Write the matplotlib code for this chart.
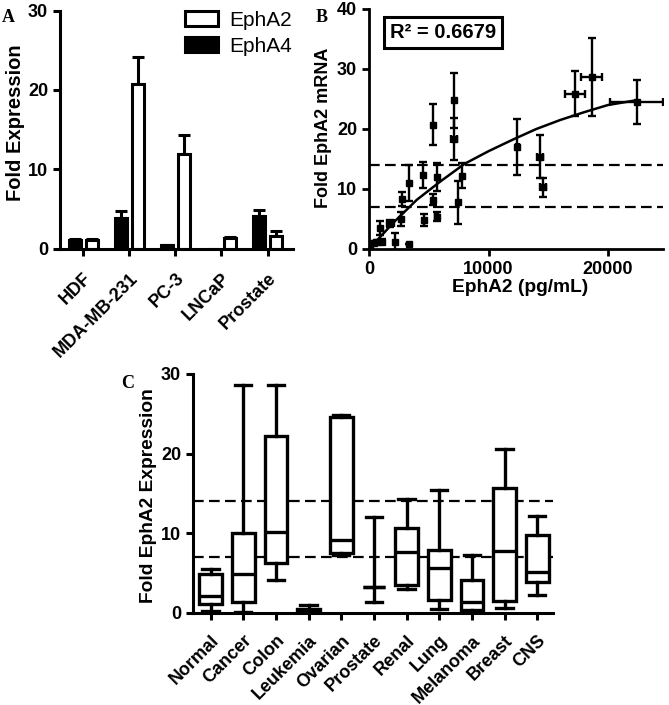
import numpy as np
import matplotlib
matplotlib.use('Agg')
import matplotlib.pyplot as plt
from matplotlib.patches import Patch

plt.rcParams['font.family'] = ['Liberation Sans', 'DejaVu Sans']
plt.rcParams['font.weight'] = 'bold'
plt.rcParams['axes.labelweight'] = 'bold'

# panel A: fold expression of EphA2 / EphA4 in cell lines
a_cats = ['HDF', 'MDA-MB-231', 'PC-3', 'LNCaP', 'Prostate']
a_epha2 = [1.1, 20.8, 12.0, 1.4, 1.6]
a_epha2_err = [0.15, 3.4, 2.4, 0.15, 0.7]
a_epha4 = [1.1, 3.9, 0.45, 0.0, 4.1]
a_epha4_err = [0.15, 0.85, 0.1, np.nan, 0.8]

# panel B: EphA2 protein vs mRNA
b_x = [22400, 18640, 17240, 12410, 14310, 14550, 7100, 7100, 7420, 7750,
       5660, 5380, 5660, 5330, 4550, 4600, 3380, 2740, 2710, 1790,
       950, 1090, 2200, 3320, 80, 390, 670]
b_y = [24.5, 28.6, 25.9, 17.0, 15.4, 10.3, 24.8, 18.3, 7.8, 12.2,
       12.0, 8.2, 5.4, 20.7, 12.3, 4.8, 11.0, 8.3, 5.0, 4.3,
       3.5, 1.2, 1.2, 0.9, 0.7, 1.0, 1.2]
b_xerr = [2200, 870, 840, 150, 250, 250, 0, 250, 0, 0,
          0, 0, 150, 0, 0, 0, 0, 0, 0, 300,
          0, 0, 0, 0, 0, 0, 0]
b_yerr = [3.6, 6.5, 3.8, 4.6, 3.6, 1.6, 4.6, 3.5, 3.6, 2.1,
          2.4, 0.9, 0.7, 3.4, 2.2, 1.0, 3.0, 1.2, 1.2, 0.6,
          1.2, 0.4, 1.4, 0.0, 0.5, 0.4, 0.3]
fit_x = [0, 2000, 4000, 6000, 8000, 10000, 12000, 14000, 16000, 18000, 20000, 22400]
fit_y = [0, 4.3, 8.2, 11.3, 14.2, 16.3, 18.2, 20.0, 21.5, 22.8, 24.0, 24.8]
thresholds = [7, 14]

# panel C: EphA2 expression by tissue
c_cats = ['Normal', 'Cancer', 'Colon', 'Leukemia', 'Ovarian', 'Prostate',
          'Renal', 'Lung', 'Melanoma', 'Breast', 'CNS']
c_whislo = [0.15, 0.1, 4.15, 0.0, 7.2, 1.3, 2.9, 0.5, 0.1, 0.6, 2.2]
c_q1 = [1.1, 1.35, 6.25, 0.1, 7.5, 3.2, 3.45, 1.55, 0.3, 1.45, 3.85]
c_med = [2.1, 4.8, 10.1, 0.3, 9.1, 3.2, 7.6, 5.6, 1.35, 7.7, 5.1]
c_q3 = [4.8, 10.0, 22.2, 0.45, 24.6, 3.2, 10.6, 7.85, 4.05, 15.7, 9.7]
c_whishi = [5.45, 28.6, 28.6, 1.0, 24.9, 12.0, 14.3, 15.4, 7.2, 20.6, 12.1]

W, H = 669, 705
LW = 2.2


def style_axes(ax, lw=LW):
    for s in ['top', 'right']:
        ax.spines[s].set_visible(False)
    for s in ['left', 'bottom']:
        ax.spines[s].set_linewidth(lw)
    ax.tick_params(direction='out', length=5, width=lw, labelsize=13)


fig = plt.figure(figsize=(W / 100, H / 100), dpi=100)
axA = fig.add_axes([60 / W, 1 - 249 / H, 233 / W, 238.5 / H])
axB = fig.add_axes([369 / W, 1 - 249 / H, 294 / W, 240 / H])
axC = fig.add_axes([193 / W, 1 - 612.5 / H, 360 / W, 238.5 / H])

# --- A ---
xa = np.arange(len(a_cats))
off = 0.185
bw = 0.26
axA.bar(xa - off, a_epha4, bw, color='black', edgecolor='black', linewidth=LW, zorder=2)
axA.bar(xa + off, a_epha2, bw, color='white', edgecolor='black', linewidth=LW, zorder=2)
e4 = np.array(a_epha4_err)
ok = ~np.isnan(e4)
axA.errorbar((xa - off)[ok], np.array(a_epha4)[ok], yerr=[np.zeros(ok.sum()), e4[ok]],
             fmt='none', ecolor='black', elinewidth=LW, capsize=4, capthick=LW, zorder=1)
axA.errorbar(xa + off, a_epha2, yerr=[np.zeros(len(xa)), a_epha2_err],
             fmt='none', ecolor='black', elinewidth=LW, capsize=4, capthick=LW, zorder=1)
axA.set_xlim(-0.5, 4.55)
axA.set_ylim(0, 30)
axA.set_yticks([0, 10, 20, 30])
axA.set_xticks(xa)
axA.set_xticklabels(a_cats, rotation=45, ha='right', rotation_mode='anchor')
style_axes(axA)
axA.tick_params(axis='x', pad=10)
axA.set_ylabel('Fold Expression', fontsize=14.5)
axA.yaxis.set_label_coords(-0.15, 0.53)
handles = [Patch(facecolor='white', edgecolor='black', linewidth=LW, label='EphA2'),
           Patch(facecolor='black', edgecolor='black', linewidth=LW, label='EphA4')]
axA.legend(handles=handles, loc='upper left', bbox_to_anchor=(0.536, 1.0),
           frameon=False, prop={'size': 15, 'weight': 'normal'}, borderpad=0,
           borderaxespad=0, handlelength=1.6, handleheight=0.75,
           handletextpad=0.55, labelspacing=0.35)

# --- B ---
for t in thresholds:
    axB.axhline(t, color='black', lw=1.6, ls=(0, (4.8, 2.4)), zorder=1)
axB.plot(fit_x, fit_y, color='black', lw=1.8, zorder=3)
axB.errorbar(b_x, b_y, yerr=b_yerr, fmt='s', ms=4, color='black',
             elinewidth=1.7, capsize=3, capthick=1.7, zorder=4)
bx = np.array(b_x)
bxe = np.array(b_xerr)
m = bxe > 0
axB.errorbar(bx[m], np.array(b_y)[m], xerr=bxe[m], fmt='none', ecolor='black',
             elinewidth=1.7, capsize=3, capthick=1.7, zorder=4)
axB.set_xlim(0, 24600)
axB.set_ylim(0, 40)
axB.set_xticks([0, 10000, 20000])
axB.set_yticks([0, 10, 20, 30, 40])
style_axes(axB, 2.0)
axB.set_ylabel('Fold EphA2 mRNA', fontsize=13)
axB.yaxis.set_label_coords(-0.125, 0.504)
axB.set_xlabel('EphA2 (pg/mL)', fontsize=13.8)
axB.xaxis.set_label_coords(0.514, -0.125)
axB.text(0.252, 0.902, 'R\u00b2 = 0.6679', transform=axB.transAxes, fontsize=14.5,
         ha='center', va='center',
         bbox=dict(boxstyle='square,pad=0.3', facecolor='white', edgecolor='black', linewidth=2.2))

# --- C ---
for t in thresholds:
    axC.axhline(t, color='black', lw=1.6, ls=(0, (4.8, 2.4)), zorder=1)
stats = []
for i in range(len(c_cats)):
    stats.append(dict(whislo=c_whislo[i], q1=c_q1[i], med=c_med[i],
                      q3=c_q3[i], whishi=c_whishi[i], fliers=[]))
xc = np.arange(len(c_cats))
axC.bxp(stats, positions=xc, widths=0.7, capwidths=0.5, patch_artist=True,
        boxprops=dict(facecolor='white', edgecolor='black', linewidth=2.4),
        medianprops=dict(color='black', linewidth=2.4),
        whiskerprops=dict(color='black', linewidth=2.4),
        capprops=dict(color='black', linewidth=2.4),
        showfliers=False, zorder=3)
axC.set_xlim(-0.54, 10.48)
axC.set_ylim(0, 30)
axC.set_yticks([0, 10, 20, 30])
axC.set_xticks(xc)
axC.set_xticklabels(c_cats, rotation=45, ha='right', rotation_mode='anchor')
style_axes(axC)
axC.tick_params(axis='x', pad=9)
axC.set_ylabel('Fold EphA2 Expression', fontsize=13.8)
axC.yaxis.set_label_coords(-0.1, 0.488)

# panel letters
for lab, (px, py) in {'A': (8, 18), 'B': (322, 18), 'C': (128, 384)}.items():
    fig.text(px / W, 1 - py / H, lab, family='Liberation Serif', fontsize=13,
             weight='bold', ha='center', va='center')

fig.savefig('out.png', dpi=100)
